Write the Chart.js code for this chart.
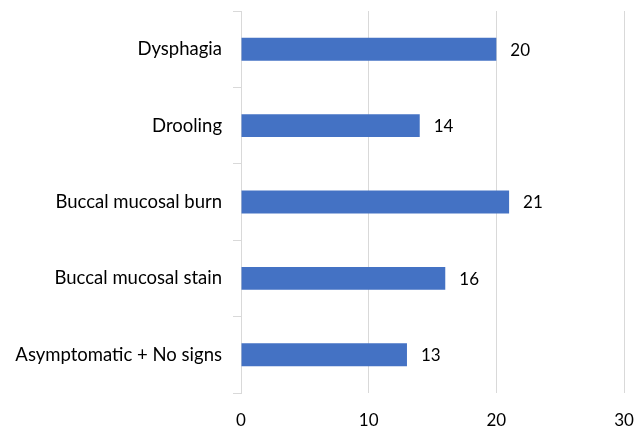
<!DOCTYPE html>
<html>
<head>
<meta charset="utf-8">
<script src="https://cdn.jsdelivr.net/npm/chart.js@4"></script>
<style>
  html, body { margin: 0; padding: 0; background: #fff; }
  #wrap { width: 644px; height: 429px; }
</style>
</head>
<body>
<div id="wrap"><canvas id="chart"></canvas></div>
<script>
const categories = [
  "Dysphagia",
  "Drooling",
  "Buccal mucosal burn",
  "Buccal mucosal stain",
  "Asymptomatic + No signs",
];
const counts = [20, 14, 21, 16, 13];
const xTicks = [0, 10, 20, 30];

const FONT = "Lato, 'Open Sans', sans-serif";

// draw the value next to the end of each bar
const valueLabels = {
  id: "valueLabels",
  afterDatasetsDraw(chart) {
    const ctx = chart.ctx;
    const meta = chart.getDatasetMeta(0);
    ctx.save();
    ctx.font = "17px " + FONT;
    ctx.fillStyle = "#000";
    ctx.textAlign = "left";
    ctx.textBaseline = "middle";
    meta.data.forEach((bar, i) => {
      ctx.fillText(String(counts[i]), bar.x + 14, bar.y + 1);
    });
    ctx.restore();
  },
};

new Chart(document.getElementById("chart"), {
  type: "bar",
  data: {
    labels: categories,
    datasets: [
      {
        data: counts,
        backgroundColor: "#4472C4",
        borderWidth: 0,
        categoryPercentage: 1,
        barPercentage: 0.3,
      },
    ],
  },
  options: {
    indexAxis: "y",
    responsive: true,
    maintainAspectRatio: false,
    animation: false,
    layout: { padding: { top: 11, right: 20, left: 0, bottom: 0 } },
    plugins: {
      legend: { display: false },
      tooltip: { enabled: false },
    },
    scales: {
      x: {
        min: 0,
        max: 30,
        afterBuildTicks: (axis) => {
          axis.ticks = xTicks.map((v) => ({ value: v }));
        },
        afterFit: (axis) => {
          axis.height = 36;
          axis.paddingLeft = 0;
          axis.paddingRight = 0;
        },
        grid: {
          color: "#d9d9d9",
          lineWidth: 1,
          drawTicks: false,
        },
        border: { display: false },
        ticks: {
          color: "#000",
          font: { family: FONT, size: 17 },
          padding: 17,
        },
      },
      y: {
        afterFit: (axis) => {
          axis.width = 241;
          axis.paddingTop = 0;
          axis.paddingBottom = 0;
        },
        grid: {
          offset: true,
          drawOnChartArea: false,
          drawTicks: true,
          tickLength: 8,
          color: "#d9d9d9",
        },
        border: { display: true, color: "#d9d9d9", width: 1 },
        ticks: {
          color: "#000",
          font: { family: FONT, size: 18.5 },
          padding: 11,
        },
      },
    },
  },
  plugins: [valueLabels],
});
</script>
</body>
</html>
